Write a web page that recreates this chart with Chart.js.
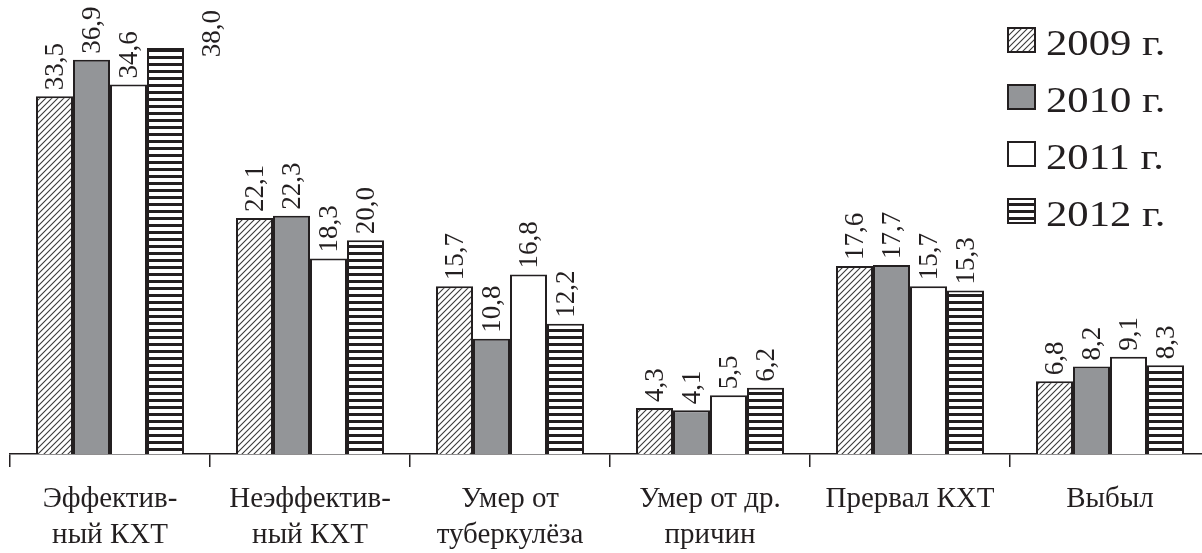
<!DOCTYPE html>
<html>
<head>
<meta charset="utf-8">
<script src="https://cdn.jsdelivr.net/npm/chart.js@4.4.1/dist/chart.umd.min.js"></script>
<style>
  html, body { margin: 0; padding: 0; background: #fff; overflow: hidden; width: 1202px; height: 553px; }
  canvas { display: block; }
</style>
</head>
<body>
<canvas id="chart" width="1210" height="553"></canvas>
<script>
const categories = [
    ['Эффектив-', 'ный КХТ'],
    ['Неэффектив-', 'ный КХТ'],
    ['Умер от', 'туберкулёза'],
    ['Умер от др.', 'причин'],
    ['Прервал КХТ'],
    ['Выбыл']
];
const years = ['2009 г.', '2010 г.', '2011 г.', '2012 г.'];
const values2009 = [33.5, 22.1, 15.7, 4.3, 17.6, 6.8];
const values2010 = [36.9, 22.3, 10.8, 4.1, 17.7, 8.2];
const values2011 = [34.6, 18.3, 16.8, 5.5, 15.7, 9.1];
const values2012 = [38.0, 20.0, 12.2, 6.2, 15.3, 8.3];

const ink = '#231f20';
const serif = "'Liberation Serif', 'DejaVu Serif', serif";

// заливки: штриховка, серый, белый, полоски
function hatchPattern() {
    const c = document.createElement('canvas');
    c.width = 6; c.height = 6;
    const g = c.getContext('2d');
    g.fillStyle = '#fff';
    g.fillRect(0, 0, 6, 6);
    g.strokeStyle = '#3a3a3a';
    g.lineWidth = 1.1;
    g.beginPath();
    g.moveTo(-1, 1); g.lineTo(1, -1);
    g.moveTo(0, 6); g.lineTo(6, 0);
    g.moveTo(5, 7); g.lineTo(7, 5);
    g.stroke();
    return g.createPattern(c, 'repeat');
}
function stripePattern() {
    const c = document.createElement('canvas');
    c.width = 4; c.height = 7;
    const g = c.getContext('2d');
    g.fillStyle = '#fff';
    g.fillRect(0, 0, 4, 7);
    g.fillStyle = ink;
    g.fillRect(0, 0, 4, 3);
    return g.createPattern(c, 'repeat');
}
const fills = [hatchPattern(), '#939598', '#ffffff', stripePattern()];

// подписи значений, повернутые на 90°
const valueLabels = {
    id: 'valueLabels',
    afterDatasetsDraw(chart) {
        const ctx = chart.ctx;
        ctx.save();
        ctx.font = '27px ' + serif;
        ctx.fillStyle = ink;
        ctx.textAlign = 'left';
        ctx.textBaseline = 'middle';
        chart.data.datasets.forEach((ds, di) => {
            chart.getDatasetMeta(di).data.forEach((bar, i) => {
                const txt = ds.data[i].toFixed(1).replace('.', ',');
                const w = ctx.measureText(txt).width;
                let x = bar.x + 1;
                let y = bar.y - 6;
                if (y - w < 4) { // не помещается сверху — сдвигаем вправо
                    x = bar.x + bar.width * 1.27;
                    y = 10 + w;
                }
                ctx.save();
                ctx.translate(x, y);
                ctx.rotate(-Math.PI / 2);
                ctx.fillText(txt, 0, 0);
                ctx.restore();
            });
        });
        ctx.restore();
    }
};

// легенда справа сверху
const boxLegend = {
    id: 'boxLegend',
    afterDraw(chart) {
        const ctx = chart.ctx;
        ctx.save();
        chart.data.datasets.forEach((ds, i) => {
            const top = 28 + i * 57;
            ctx.fillStyle = ds.backgroundColor;
            ctx.fillRect(1008, top, 27, 24);
            ctx.strokeStyle = ink;
            ctx.lineWidth = 2;
            ctx.strokeRect(1008, top, 27, 24);
            ctx.save();
            ctx.translate(1046, top + 27);
            ctx.scale(1.22, 1);
            ctx.fillStyle = ink;
            ctx.font = '35px ' + serif;
            ctx.textBaseline = 'alphabetic';
            ctx.fillText(ds.label, 0, 0);
            ctx.restore();
        });
        ctx.restore();
    }
};

new Chart(document.getElementById('chart'), {
    type: 'bar',
    data: {
        labels: categories,
        datasets: [
            { label: years[0], data: values2009 },
            { label: years[1], data: values2010 },
            { label: years[2], data: values2011 },
            { label: years[3], data: values2012 }
        ].map((ds, i) => Object.assign(ds, {
            backgroundColor: fills[i],
            borderColor: ink,
            borderWidth: 2,
            categoryPercentage: 0.74,
            barPercentage: 1
        }))
    },
    options: {
        responsive: false,
        animation: false,
        layout: { padding: { left: 10, right: 0, top: 0, bottom: 0 } },
        plugins: {
            legend: { display: false },
            tooltip: { enabled: false }
        },
        scales: {
            x: {
                grid: {
                    display: true,
                    drawOnChartArea: false,
                    drawTicks: true,
                    tickLength: 13,
                    color: ink,
                    lineWidth: 1.5
                },
                border: { display: true, color: ink, width: 1.5 },
                ticks: {
                    color: ink,
                    font: { family: serif, size: 29, lineHeight: 1.22 },
                    padding: 15,
                    maxRotation: 0,
                    autoSkip: false
                },
                afterFit(scale) { scale.height = 99; }
            },
            y: {
                display: false,
                min: 0,
                max: 42.5
            }
        }
    },
    plugins: [valueLabels, boxLegend]
});
</script>
</body>
</html>
